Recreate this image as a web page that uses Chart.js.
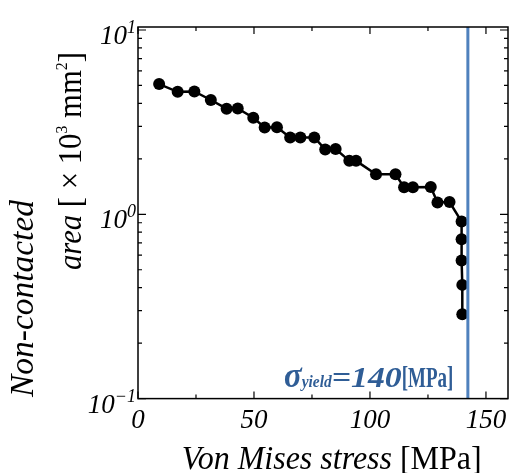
<!DOCTYPE html>
<html>
<head>
<meta charset="utf-8">
<script src="https://cdn.jsdelivr.net/npm/chart.js@4"></script>
<style>
html,body{margin:0;padding:0;background:#fff;}
canvas{display:block;}
</style>
</head>
<body>
<canvas id="c" width="509" height="473"></canvas>
<script>
// ---- data ----
const stress = [9.1,17.1,24.3,31.4,38.2,43.0,49.7,54.6,59.9,65.6,70.0,76.0,80.7,85.2,91.1,94.0,102.6,111.0,114.7,118.5,126.2,129.1,134.3,139.5,139.5,139.5,139.8,139.8];
const area = [5.09,4.62,4.64,4.17,3.74,3.75,3.34,2.96,2.97,2.61,2.61,2.61,2.25,2.26,1.95,1.95,1.65,1.65,1.40,1.40,1.405,1.16,1.165,0.914,0.733,0.562,0.414,0.287];
const yieldLineX = [142.2, 142.2];
const yieldLineY = [0.1, 10.38];
const xTickLabels = [0, 50, 100, 150];
const xMinorTicks = [25, 75, 125];
const yTickExps = [-1, 0, 1];
const yieldLabel = ['σ', 'yield', '=140', '[MPa]'];
const xTitle = ['Von Mises stress', ' [MPa]'];
const yTitle1 = 'Non-contacted';
const yTitle2 = ['area', ' [ × 10', '3', ' mm', '2', ']'];

const SERIF = '"Liberation Serif", "DejaVu Serif", serif';

function drawRich(ctx, segs, x, y, target) {
  let natural = 0;
  segs.forEach(s => { ctx.font = s.font; s.nw = ctx.measureText(s.t).width; natural += s.nw; });
  const sc = target ? target / natural : 1;
  ctx.save();
  ctx.translate(x, y);
  ctx.scale(sc, 1);
  let cx = 0;
  segs.forEach(s => {
    ctx.font = s.font;
    ctx.fillStyle = s.color || '#000';
    ctx.fillText(s.t, cx, s.dy || 0);
    cx += s.nw;
  });
  ctx.restore();
}

const decor = {
  id: 'decor',
  afterDraw(chart) {
    const ctx = chart.ctx;
    const xs = chart.scales.x, ys = chart.scales.y;
    const a = chart.chartArea;
    ctx.save();
    ctx.strokeStyle = '#000';
    ctx.lineWidth = 1.5;
    ctx.strokeRect(a.left, a.top, a.right - a.left, a.bottom - a.top);
    ctx.lineWidth = 1.2;
    // x ticks
    const xt = (v, len) => {
      const px = xs.getPixelForValue(v);
      ctx.beginPath();
      ctx.moveTo(px, a.bottom); ctx.lineTo(px, a.bottom - len);
      ctx.moveTo(px, a.top); ctx.lineTo(px, a.top + len);
      ctx.stroke();
    };
    xTickLabels.forEach(v => xt(v, 7));
    xMinorTicks.forEach(v => xt(v, 4));
    // y ticks
    const yt = (v, len) => {
      const py = ys.getPixelForValue(v);
      ctx.beginPath();
      ctx.moveTo(a.left, py); ctx.lineTo(a.left + len, py);
      ctx.moveTo(a.right, py); ctx.lineTo(a.right - len, py);
      ctx.stroke();
    };
    yTickExps.forEach(e => yt(Math.pow(10, e), 8));
    for (let e = -1; e < 1; e++) for (let m = 2; m <= 9; m++) yt(m * Math.pow(10, e), 4);

    // x tick labels
    ctx.fillStyle = '#000';
    ctx.textBaseline = 'alphabetic';
    ctx.textAlign = 'center';
    ctx.font = 'italic 27px ' + SERIF;
    xTickLabels.forEach(v => ctx.fillText(String(v), xs.getPixelForValue(v), 428));
    ctx.textAlign = 'left';

    // y tick labels
    yTickExps.forEach(e => {
      const py = ys.getPixelForValue(Math.pow(10, e));
      const exp = e < 0 ? '−' + (-e) : String(e);
      const segs = [
        {t: '10', font: 'italic 27px ' + SERIF},
        {t: exp, font: 'italic 18px ' + SERIF, dy: -11}
      ];
      let w = 0;
      segs.forEach(s => { ctx.font = s.font; w += ctx.measureText(s.t).width; });
      drawRich(ctx, segs, 136 - w, py + 14);
    });

    // x title
    drawRich(ctx, [
      {t: xTitle[0], font: 'italic 33px ' + SERIF},
      {t: xTitle[1], font: '33px ' + SERIF}
    ], 181.7, 469, 300);

    // y title
    ctx.save();
    ctx.translate(33, 397);
    ctx.rotate(-Math.PI / 2);
    drawRich(ctx, [{t: yTitle1, font: 'italic 33px ' + SERIF}], 0, 0, 197);
    ctx.restore();
    ctx.save();
    ctx.translate(81, 270);
    ctx.rotate(-Math.PI / 2);
    drawRich(ctx, [
      {t: yTitle2[0], font: 'italic 33px ' + SERIF},
      {t: yTitle2[1], font: '33px ' + SERIF},
      {t: yTitle2[2], font: '17px ' + SERIF, dy: -14},
      {t: yTitle2[3], font: '33px ' + SERIF},
      {t: yTitle2[4], font: '17px ' + SERIF, dy: -14},
      {t: yTitle2[5], font: '33px ' + SERIF}
    ], 0, 0, 218);
    ctx.restore();

    // yield label (per-segment widths)
    const col = '#2f5d96';
    const lab = [
      {t: yieldLabel[0], font: 'bold italic 36px ' + SERIF, x: 284, w: 17.7},
      {t: yieldLabel[1], font: 'bold italic 17px ' + SERIF, x: 301.7, w: 30},
      {t: yieldLabel[2], font: 'bold italic 29px ' + SERIF, x: 331.7, w: 70},
      {t: yieldLabel[3], font: 'bold 29px ' + SERIF, x: 401.7, w: 51.7}
    ];
    lab.forEach(s => drawRich(ctx, [{t: s.t, font: s.font, color: col}], s.x, 386.5, s.w));
    ctx.restore();
  }
};

new Chart(document.getElementById('c'), {
  type: 'line',
  data: {
    datasets: [
      {
        data: stress.map((x, i) => ({x: x, y: area[i]})),
        borderColor: '#000',
        backgroundColor: '#000',
        borderWidth: 2.5,
        pointRadius: 6,
        pointBackgroundColor: '#000',
        pointBorderColor: '#000',
        pointBorderWidth: 0,
        tension: 0,
        order: 2
      },
      {
        data: yieldLineX.map((x, i) => ({x: x, y: yieldLineY[i]})),
        borderColor: '#4f81bd',
        borderWidth: 3,
        pointRadius: 0,
        tension: 0,
        order: 1
      }
    ]
  },
  options: {
    responsive: false,
    animation: false,
    devicePixelRatio: 1,
    layout: {autoPadding: false, padding: {left: 138, right: 1, top: 27, bottom: 74.4}},
    plugins: {legend: {display: false}, tooltip: {enabled: false}},
    scales: {
      x: {type: 'linear', min: 0, max: 159.5, display: false},
      y: {type: 'logarithmic', min: 0.1, max: 10.38, display: false}
    }
  },
  plugins: [decor]
});
</script>
</body>
</html>
